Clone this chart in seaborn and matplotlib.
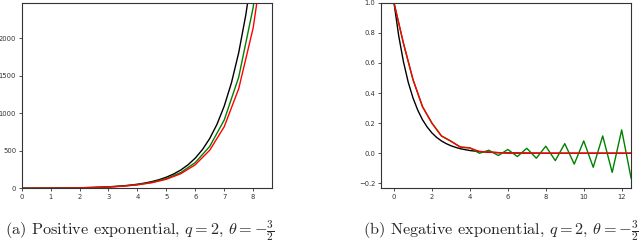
import numpy as np
import pandas as pd
import matplotlib
matplotlib.use("Agg")
import matplotlib.pyplot as plt
import seaborn as sns

# ---- Data: positive exponential (left) ----
x_fine_pos = [0, 0.25, 0.5, 0.75, 1, 1.25, 1.5, 1.75, 2, 2.25, 2.5, 2.75, 3, 3.25, 3.5, 3.75,
              4, 4.25, 4.5, 4.75, 5, 5.25, 5.5, 5.75, 6, 6.25, 6.5, 6.75, 7, 7.25, 7.5, 7.75,
              8, 8.25, 8.5]
exact_pos = [1, 1.28, 1.65, 2.12, 2.72, 3.49, 4.48, 5.75, 7.39, 9.49, 12.18, 15.64, 20.09,
             25.79, 33.12, 42.52, 54.6, 70.1, 90.0, 115.6, 148.4, 190.6, 244.7, 314.2, 403.4,
             518.0, 665.1, 854.1, 1096.6, 1408.1, 1808.0, 2321.6, 2981.0, 3827.6, 4914.8]
x_step_pos = [0, 0.5, 1, 1.5, 2, 2.5, 3, 3.5, 4, 4.5, 5, 5.5, 6, 6.5, 7, 7.5, 8, 8.5]
green_pos = [1, 1.63, 2.65, 4.30, 7.00, 11.4, 18.5, 30.2, 49.1, 79.9, 130, 211, 344, 560,
             911, 1482, 2411, 3923]
red_pos = [1, 1.62, 2.61, 4.21, 6.80, 10.99, 17.7, 28.7, 46.3, 74.8, 120.8, 195, 315, 509,
           822, 1328, 2139, 3455]

# ---- Data: negative exponential (right) ----
x_fine_neg = [0, 0.25, 0.5, 0.75, 1, 1.25, 1.5, 1.75, 2, 2.25, 2.5, 2.75, 3, 3.25, 3.5, 3.75,
              4, 4.5, 5, 5.5, 6, 7, 8, 9, 10, 11, 12, 12.5]
exact_neg = [1, 0.779, 0.607, 0.472, 0.368, 0.287, 0.223, 0.174, 0.135, 0.105, 0.082, 0.064,
             0.050, 0.039, 0.030, 0.024, 0.018, 0.011, 0.007, 0.004, 0.002, 0.001, 0.0, 0.0,
             0.0, 0.0, 0.0, 0.0]
x_step_neg = [0, 0.5, 1, 1.5, 2, 2.5, 3, 3.5, 4, 4.5, 5, 5.5, 6, 6.5, 7, 7.5, 8, 8.5, 9, 9.5,
              10, 10.5, 11, 11.5, 12, 12.5]
green_neg = [1, 0.73, 0.49, 0.31, 0.20, 0.115, 0.08, 0.042, 0.036, 0.0, 0.02, -0.015, 0.025,
             -0.022, 0.033, -0.033, 0.047, -0.049, 0.064, -0.072, 0.082, -0.093, 0.115,
             -0.127, 0.155, -0.168]
red_neg = [1, 0.73, 0.49, 0.31, 0.20, 0.115, 0.08, 0.040, 0.035, 0.012, 0.008, 0.004, 0.002,
           0.001, 0.0, 0.0, 0.0, 0.0, 0.0, 0.0, 0.0, 0.0, 0.0, 0.0, 0.0, 0.0]

captions = [r"(a) Positive exponential, $q=2$, $\theta=-\frac{3}{2}$",
            r"(b) Negative exponential, $q=2$, $\theta=-\frac{3}{2}$"]

sns.set_theme(style="ticks")
plt.rcParams.update({
    "mathtext.fontset": "cm",
    "axes.edgecolor": "#333333",
    "axes.linewidth": 0.8,
    "xtick.color": "#333333",
    "ytick.color": "#333333",
    "xtick.labelsize": 4.9,
    "ytick.labelsize": 4.9,
    "xtick.major.size": 2.5,
    "ytick.major.size": 2.5,
    "xtick.major.pad": 1.5,
    "ytick.major.pad": 1.5,
    "xtick.major.width": 0.6,
    "ytick.major.width": 0.6,
})

fig = plt.figure(figsize=(6.4, 2.43), dpi=100)
ax1 = fig.add_axes([0.0339, 0.225, 0.3906, 0.7638])
ax2 = fig.add_axes([0.5953, 0.225, 0.3906, 0.7638])

lw = 1.0
sns.lineplot(x=x_fine_pos, y=exact_pos, color="black", lw=lw, ax=ax1)
sns.lineplot(x=x_step_pos, y=green_pos, color="green", lw=lw, ax=ax1)
sns.lineplot(x=x_step_pos, y=red_pos, color="red", lw=lw, ax=ax1)
ax1.set_xlim(0, 8.64)
ax1.set_ylim(0, 2475)
ax1.set_xticks([0, 1, 2, 3, 4, 5, 6, 7, 8])
ax1.set_yticks([0, 500, 1000, 1500, 2000])

sns.lineplot(x=x_fine_neg, y=exact_neg, color="black", lw=lw, ax=ax2)
sns.lineplot(x=x_step_neg, y=green_neg, color="green", lw=lw, ax=ax2)
sns.lineplot(x=x_step_neg, y=red_neg, color="red", lw=lw, ax=ax2)
ax2.set_xlim(-0.685, 12.49)
ax2.set_ylim(-0.233, 1.0)
ax2.set_xticks([0, 2, 4, 6, 8, 10, 12])
ax2.set_yticks([-0.2, 0.0, 0.2, 0.4, 0.6, 0.8, 1.0])

for ax in (ax1, ax2):
    for s in ax.spines.values():
        s.set_visible(True)
    ax.set_xlabel("")
    ax.set_ylabel("")

fig.text(0.008, 0.034, captions[0], fontsize=11.7, family="cmr10", ha="left", va="baseline")
fig.text(0.567, 0.034, captions[1], fontsize=11.7, family="cmr10", ha="left", va="baseline")

fig.savefig("out.png", dpi=100)
